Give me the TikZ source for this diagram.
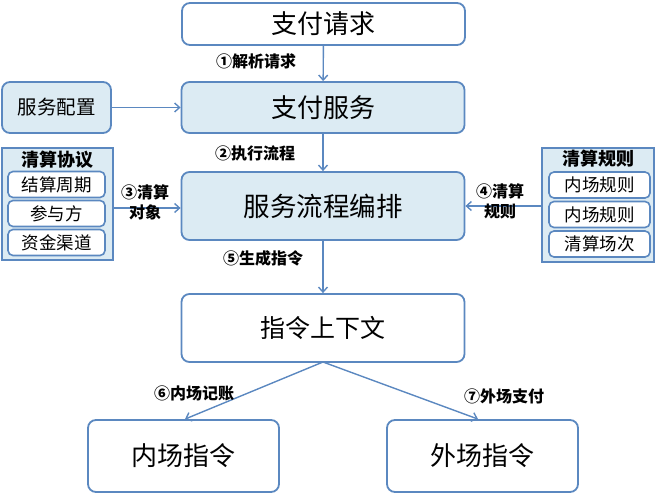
\documentclass[tikz,border=0pt]{standalone}
\usepackage{fontspec}
\setmainfont{Noto Sans CJK SC}
\usetikzlibrary{arrows.meta}
\definecolor{bord}{HTML}{5B88C0}
\definecolor{lfill}{HTML}{DCEBF3}
\begin{document}
\begin{tikzpicture}[x={(1pt,0)},y={(0,-1pt)},
  box/.style={draw=bord,line width=1.8pt,rounded corners=8pt,inner sep=0pt},
  mainbox/.style={box,fill=white,minimum width=283pt},
  bluebox/.style={box,fill=lfill},
  grp/.style={draw=bord,line width=1.6pt,fill=lfill,inner sep=0pt},
  inbox/.style={draw=bord,line width=1.6pt,rounded corners=5pt,fill=white,minimum width=97pt,minimum height=26pt,inner sep=0pt,font=\fontsize{17.5}{19}\selectfont},
  arr/.style={draw=bord,line width=1.4pt,-{Straight Barb[length=5pt,width=9pt]}},
  lab/.style={font=\fontsize{16}{20}\selectfont\bfseries,text=black,align=center,inner sep=1pt}]
\useasboundingbox (0,0) rectangle (656,494);

\node[mainbox,minimum height=42pt,font=\fontsize{26}{28}\selectfont] (req) at (323.5,24) {支付请求};
\node[mainbox,fill=lfill,minimum height=51pt,font=\fontsize{26}{28}\selectfont] (svc) at (323,107.5) {支付服务};
\node[bluebox,minimum width=109pt,minimum height=51pt,font=\fontsize{19.5}{21}\selectfont] (cfg) at (56.5,107.5) {服务配置};
\node[mainbox,fill=lfill,minimum height=68pt,font=\fontsize{26.5}{28}\selectfont] (orch) at (323,206) {服务流程编排};
\node[mainbox,minimum height=68pt,font=\fontsize{25}{27}\selectfont] (ctx) at (323,328) {指令上下文};
\node[box,fill=white,minimum width=191pt,minimum height=72pt,font=\fontsize{26}{28}\selectfont] (inner) at (183.5,456) {内场指令};
\node[box,fill=white,minimum width=191pt,minimum height=72pt,font=\fontsize{26}{28}\selectfont] (outer) at (482.5,456) {外场指令};

% left group
\node[grp,minimum width=111pt,minimum height=112pt] (lg) at (57.5,204) {};
\node[font=\fontsize{18}{20}\selectfont\bfseries] (lgt) at (57.5,160) {清算协议};
\node[inbox] (l1) at (56.5,184.5) {结算周期};
\node[inbox] (l2) at (56.5,213.5) {参与方};
\node[inbox] (l3) at (56.5,242.5) {资金渠道};

% right group
\node[grp,minimum width=112pt,minimum height=114pt] (rg) at (598,205) {};
\node[font=\fontsize{18}{20}\selectfont\bfseries] (rgt) at (598,159) {清算规则};
\node[inbox,minimum width=101pt] (r1) at (599.5,185) {内场规则};
\node[inbox,minimum width=101pt] (r2) at (599.5,214.5) {内场规则};
\node[inbox,minimum width=101pt] (r3) at (599.5,244) {清算场次};

% connectors
\draw[arr] (req) -- (svc);
\node[lab] (a1) at (256,61) {①解析请求};
\draw[arr] (cfg) -- (svc);
\draw[arr] (svc) -- (orch);
\node[lab] (a2) at (255,153) {②执行流程};
\draw[arr] (lg.east |- 0,208) -- (orch.west |- 0,208);
\node[lab] (a3) at (145,202) {③清算\\对象};
\draw[arr] (rg.west |- 0,206) -- (orch.east |- 0,206);
\node[lab] (a4) at (500,201) {④清算\\规则};
\draw[arr] (orch) -- (ctx);
\node[lab] (a5) at (263,258) {⑤生成指令};
\coordinate (ctxb) at (323,362);
\draw[arr] (ctxb) -- (inner.north -| 185,0);
\draw[arr] (ctxb) -- (outer.north -| 478,0);
\node[lab] (a6) at (194,393) {⑥内场记账};
\node[lab] (a7) at (504,396) {⑦外场支付};
\end{tikzpicture}
\end{document}
